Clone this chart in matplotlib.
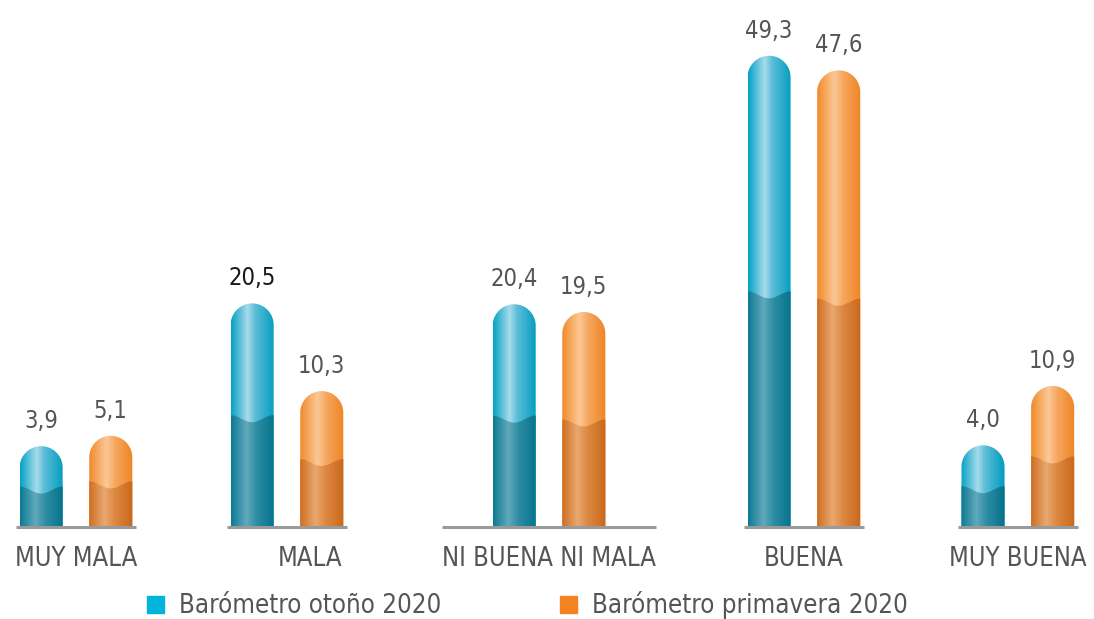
import numpy as np
import matplotlib
matplotlib.use("Agg")
import matplotlib.pyplot as plt
from matplotlib.path import Path
from matplotlib.patches import PathPatch, Patch

# ---------------- Data ----------------
categories = ["MUY MALA", "MALA", "NI BUENA NI MALA", "BUENA", "MUY BUENA"]
otono_2020 = [3.9, 20.5, 20.4, 49.3, 4.0]
primavera_2020 = [5.1, 10.3, 19.5, 47.6, 10.9]
series_names = ["Barómetro otoño 2020", "Barómetro primavera 2020"]

# ---------------- Layout ----------------
group_x = [0.0, 1.0, 2.242, 3.45, 4.464]
label_dx = [0.0, 0.11, 0.0, 0.0, 0.0]
seg_half = [0.285, 0.285, 0.505, 0.285, 0.285]
bar_off = 0.165
bar_w = 0.204
base = -5.5          # bars start a bit below zero, as in the original
dark_frac = 0.5

txt_col = "#555555"
font = dict(family="DejaVu Sans", fontstretch="condensed")

# gradient stops (position, colour) across bar width
blue_light = [(0, "#06a3c6"), (0.38, "#a8dbea"), (0.55, "#5cbed8"), (1, "#029cbe")]
blue_dark = [(0, "#0c7b94"), (0.35, "#62a9bb"), (0.6, "#2a8ca3"), (1, "#06728b")]
orng_light = [(0, "#f18a2a"), (0.4, "#fbc897"), (0.6, "#f6a65e"), (1, "#ef8524")]
orng_dark = [(0, "#cf6f22"), (0.35, "#e9a870"), (0.6, "#dc8740"), (1, "#c9681c")]


def gradient(stops, n=64):
    t = np.linspace(0, 1, n)
    pos = [s[0] for s in stops]
    rgb = np.array([matplotlib.colors.to_rgb(s[1]) for s in stops])
    img = np.stack([np.interp(t, pos, rgb[:, k]) for k in range(3)], axis=-1)
    return img[np.newaxis, :, :]


fig = plt.figure(figsize=(10.94, 6.19), dpi=100)
ax = fig.add_axes([0, 0, 1, 1])
ax.set_xlim(-0.36, 4.825)
ax.set_ylim(-16.2, 55.78)
ax.axis("off")

# radius of the rounded top in y units, so the cap is round on screen
sx = fig.get_figwidth() * fig.dpi / (4.825 + 0.36)
sy = fig.get_figheight() * fig.dpi / (55.78 + 16.2)
rx = bar_w / 2
ry = rx * sx / sy
dip = 7 / sy


def draw_bar(xc, val, light, dark):
    x0, x1 = xc - rx, xc + rx
    ang = np.linspace(np.pi, 0, 40)
    verts = [(x0, base), (x0, val - ry)]
    verts += list(zip(xc + rx * np.cos(ang), val - ry + ry * np.sin(ang)))
    verts += [(x1, val - ry), (x1, base), (x0, base)]
    outline = PathPatch(Path(verts), facecolor="none", edgecolor="none")
    ax.add_patch(outline)
    im = ax.imshow(gradient(light), extent=[x0, x1, base, val], aspect="auto",
                   interpolation="bilinear", zorder=2)
    im.set_clip_path(outline)

    dtop = base + dark_frac * (val - base)
    t = np.linspace(1, 0, 40)
    wave = list(zip(x0 + t * bar_w, dtop - dip * np.sin(np.pi * t) ** 2))
    dverts = [(x0, base), (x1, base)] + wave + [(x0, base)]
    dpatch = PathPatch(Path(dverts), facecolor="none", edgecolor="none")
    ax.add_patch(dpatch)
    im2 = ax.imshow(gradient(dark), extent=[x0, x1, base, dtop], aspect="auto",
                    interpolation="bilinear", zorder=3)
    im2.set_clip_path(dpatch)


for i, g in enumerate(group_x):
    ax.plot([g - seg_half[i], g + seg_half[i]], [base, base], color="#9a9a9a",
            lw=2.2, solid_capstyle="butt", zorder=4)
    draw_bar(g - bar_off, otono_2020[i], blue_light, blue_dark)
    draw_bar(g + bar_off, primavera_2020[i], orng_light, orng_dark)
    for xv, v in [(g - bar_off, otono_2020[i]), (g + bar_off, primavera_2020[i])]:
        col = "#1a1a1a" if v == 20.5 else txt_col
        ax.annotate(f"{v:.1f}".replace(".", ","), (xv, v), xytext=(0, 13),
                    textcoords="offset points", ha="center", va="baseline",
                    fontsize=17, color=col, **font)
    ax.annotate(categories[i], (g + label_dx[i], base), xytext=(0, -28),
                textcoords="offset points", ha="center", va="baseline",
                fontsize=18.4, color=txt_col, **font)

handles = [Patch(color="#00b4dc"), Patch(color="#f58220")]
leg = fig.legend(handles, series_names, loc="center", bbox_to_anchor=(0.482, 0.022),
                 ncol=2, frameon=False, handlelength=0.66, handleheight=0.66,
                 handletextpad=0.58, columnspacing=4.6,
                 prop=dict(size=18.5, family="DejaVu Sans", stretch="condensed"))
for t in leg.get_texts():
    t.set_color(txt_col)

fig.savefig("out.png", dpi=100)
